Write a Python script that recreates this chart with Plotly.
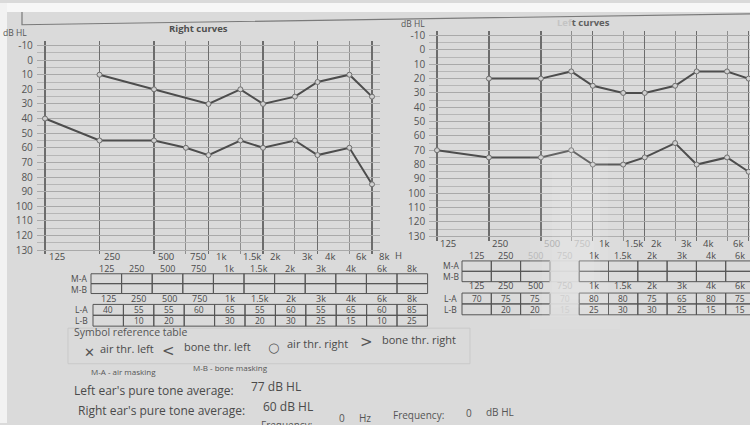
import math
import plotly.graph_objects as go

W, H = 750, 425

# ---------------- data ----------------
freqs = [125, 250, 500, 750, 1000, 1500, 2000, 3000, 4000, 6000, 8000]
freq_labels = ["125", "250", "500", "750", "1k", "1.5k", "2k", "3k", "4k", "6k", "8k"]
octave_freqs = [125, 250, 500, 1000, 2000, 4000, 8000]
mid_freqs = [750, 1500, 3000, 6000]
db_ticks = list(range(-10, 131, 10))
db_minor = list(range(-5, 131, 10))

right_air = [40, 55, 55, 60, 65, 55, 60, 55, 65, 60, 85]      # L-A, right ear
right_bone = [None, 10, 20, None, 30, 20, 30, 25, 15, 10, 25]  # L-B, right ear
left_air = [70, 75, 75, 70, 80, 80, 75, 65, 80, 75, 85]        # L-A, left ear
left_bone = [None, 20, 20, 15, 25, 30, 30, 25, 15, 15, 20]     # L-B, left ear

left_pta = 77
right_pta = 60

FONT = "Open Sans"
TXT = "#4a4a4a"
BG = "#dadada"


def px(x):
    return x / W


def py(y):
    return 1 - y / H


def xgeom(f125_px, f8k_px, pad_l, right_edge=None):
    ppd = (f8k_px - f125_px) / math.log10(8000 / 125)
    lo = math.log10(125) - pad_l
    d0 = f125_px - pad_l * ppd
    if right_edge is None:
        hi = math.log10(8000) + pad_l
        d1 = f8k_px + pad_l * ppd
    else:
        d1 = right_edge
        hi = math.log10(8000) + (right_edge - f8k_px) / ppd
    return [px(d0), px(d1)], [lo, hi]


def ygeom(top_px, bot_px, pad=3):
    ppu = (bot_px - top_px) / 140.0
    t = top_px - pad * ppu
    b = bot_px + pad * ppu
    return [py(b), py(t)], [130 + pad, -10 - pad]


xd1, xr1 = xgeom(45, 372, 0.045)
yd1, yr1 = ygeom(43, 250)
xd2, xr2 = xgeom(437, 748.6, 0.045, right_edge=750)
yd2, yr2 = ygeom(33, 236)

fig = go.Figure()

line_style = dict(color="#4d4d4d", width=2)
marker_style = dict(symbol="circle", size=5, color="#cfcfcf", line=dict(color="#6e6e6e", width=1))

for ys, xa, ya in [(right_air, "x", "y"), (right_bone, "x", "y"),
                   (left_air, "x2", "y2"), (left_bone, "x2", "y2")]:
    fig.add_trace(go.Scatter(x=freqs, y=ys, mode="lines+markers", connectgaps=True,
                             line=line_style, marker=marker_style,
                             xaxis=xa, yaxis=ya, hoverinfo="skip", cliponaxis=True))


def xaxis_cfg(domain, rng, anchor):
    return dict(type="log", domain=domain, range=rng, anchor=anchor,
                tickvals=octave_freqs, showticklabels=False, ticks="",
                showgrid=True, gridcolor="#6c6c6c", gridwidth=1.4,
                minor=dict(tickvals=mid_freqs, showgrid=True, gridcolor="#8e8e8e", gridwidth=1, ticks=""),
                zeroline=False, showline=False, fixedrange=True)


def yaxis_cfg(domain, rng, anchor):
    return dict(domain=domain, range=rng, anchor=anchor,
                tickvals=db_ticks, ticktext=[str(v) for v in db_ticks],
                tickfont=dict(family=FONT, size=10, color="#555"),
                ticks="", ticklabelstandoff=3,
                showgrid=True, gridcolor="#a9a9a9", gridwidth=1,
                minor=dict(tickvals=db_minor, showgrid=True, gridcolor="#b6b6b6", gridwidth=1, ticks=""),
                zeroline=False, showline=False, fixedrange=True)


annotations = []
shapes = []


def text(x, y, s, size=10, color=TXT, xanchor="left", bold=False, family=FONT, yanchor="middle"):
    if bold:
        s = "<b>" + s + "</b>"
    annotations.append(dict(x=px(x), y=py(y), xref="paper", yref="paper", text=s,
                            showarrow=False, xanchor=xanchor, yanchor=yanchor, borderpad=0,
                            font=dict(family=family, size=size, color=color)))


# background details: top white strip, left strip, frame line
shapes.append(dict(type="rect", xref="paper", yref="paper", x0=0, x1=1, y0=py(9), y1=1,
                   fillcolor="#f7f7f7", line=dict(width=0), layer="below"))
shapes.append(dict(type="rect", xref="paper", yref="paper", x0=0, x1=px(7), y0=0, y1=1,
                   fillcolor="#f2f2f2", line=dict(width=0), layer="below"))
shapes.append(dict(type="path", xref="paper", yref="paper",
                   path=f"M {px(22)} {py(9)} L {px(22)} {py(22)} L {px(750)} {py(11)}",
                   line=dict(color="#7a7a7a", width=1.2), layer="below"))

# panel titles and units
text(199, 26, "Right curves", size=9.5, color="#505050", xanchor="center", bold=True)
text(583, 20, "<span style='color:#c4c4c4'>Lef</span>t curves", size=9.5, color="#606060",
     xanchor="center", bold=True)
text(28, 30, "dB HL", size=8.5, color="#555", xanchor="right")
text(426, 21, "dB HL", size=8.5, color="#555", xanchor="right")

# frequency labels under the plots
faded_right = {500: "#b0b0b0", 750: "#c2c2c2"}
for f, lab in zip(freqs, freq_labels):
    annotations.append(dict(x=math.log10(f), y=py(256.5), xref="x", yref="paper", text=lab,
                            showarrow=False, xanchor="center", yanchor="middle", xshift=12, borderpad=0,
                            font=dict(family=FONT, size=9.5, color=TXT)))
    annotations.append(dict(x=math.log10(f), y=py(243.5), xref="x2", yref="paper", text=lab,
                            showarrow=False, xanchor="center", yanchor="middle", xshift=11, borderpad=0,
                            font=dict(family=FONT, size=9.5, color=faded_right.get(f, TXT))))
text(394, 256, "H", size=9.5, color=TXT)


def cell(v):
    if v is None:
        return "&nbsp;"
    return str(v)


def table(x0, cw, y_head, y_top, rh, labels, label_x, values, hidden=None, head_col=None):
    hidden = hidden or {}
    head_col = head_col or {}
    for i, lab in enumerate(freq_labels):
        cx = x0 + cw * (i + 0.5)
        text(cx, y_head, lab, size=9, color=head_col.get(i, TXT), xanchor="center")
    text(label_x, y_top + rh, "<br>".join(labels), size=8.5, color=TXT, xanchor="right")
    for r in range(2):
        yt, yb = y_top + r * rh, y_top + (r + 1) * rh
        for i in range(len(freqs)):
            xl = x0 + cw * i
            shapes.append(dict(type="rect", xref="paper", yref="paper",
                               x0=px(xl), x1=px(xl + cw), y0=py(yb), y1=py(yt),
                               line=dict(color=hidden.get(i, "#555"), width=1), fillcolor="rgba(0,0,0,0)"))
    if values is not None:
        for i in range(len(freqs)):
            s = cell(values[0][i]) + "<br>" + cell(values[1][i])
            text(x0 + cw * (i + 0.5), y_top + rh, s, size=8.5,
                 color="#cfcfcf" if i in hidden else TXT, xanchor="center")


# right-ear tables (under left panel)
table(91, 30.6, 268.5, 274, 10, ["M-A", "M-B"], 88, None)
table(93, 30.4, 299, 305, 11, ["L-A", "L-B"], 89, [right_air, right_bone])

# left-ear tables (under right panel)
glare = {3: "#cdcdcd"}
table(462, 29.3, 255.5, 261, 10.5, ["M-A", "M-B"], 460, None,
      hidden=glare, head_col={2: "#b8b8b8", 3: "#c8c8c8"})
table(462, 29.3, 286.3, 293.5, 11, ["L-A", "L-B"], 458, [left_air, left_bone],
      hidden=glare, head_col={3: "#c8c8c8"})

# glare in the photo (soft, stacked)
for (x0, x1, y0, y1) in [(530, 620, 110, 330), (542, 608, 145, 318), (552, 600, 170, 308), (560, 594, 190, 300)]:
    shapes.append(dict(type="rect", xref="paper", yref="paper", x0=px(x0), x1=px(x1), y0=py(y1), y1=py(y0),
                       fillcolor="white", opacity=0.07, line=dict(width=0), layer="above"))

# symbol reference
text(73, 333, "Symbol reference table", size=10.5, color="#555")
shapes.append(dict(type="rect", xref="paper", yref="paper", x0=px(68), x1=px(470), y0=py(365), y1=py(329),
                   line=dict(color="#c9c9c9", width=1), fillcolor="rgba(0,0,0,0)", layer="below"))
text(89, 354, "✕", size=13, color="#555", xanchor="center", family="DejaVu Sans")
text(99, 350, "air thr. left", size=11, color=TXT)
text(168, 352, "<", size=15, color="#555", xanchor="center", family="DejaVu Sans")
text(183, 348, "bone thr. left", size=11, color=TXT)
text(273, 349, "○", size=13, color="#555", xanchor="center", family="DejaVu Sans")
text(286, 345, "air thr. right", size=11, color=TXT)
text(366, 343, ">", size=15, color="#555", xanchor="center", family="DejaVu Sans")
text(381, 340, "bone thr. right", size=11, color=TXT)

text(90, 373, "M-A - air masking", size=8, color="#555")
text(192, 369, "M-B - bone masking", size=8, color="#555")

text(73, 392, "Left ear's pure tone average:", size=12, color=TXT)
text(250, 388, f"{left_pta} dB HL", size=12, color=TXT)
text(77, 412, "Right ear's pure tone average:", size=12, color=TXT)
text(262, 408, f"{right_pta} dB HL", size=12, color=TXT)

text(260, 427, "Frequency:", size=10, color="#555")
text(338, 420, "0", size=10, color="#555")
text(358, 420, "Hz", size=10, color="#555")
text(392, 417, "Frequency:", size=10, color="#555")
text(465, 415, "0", size=10, color="#555")
text(485, 414, "dB HL", size=10, color="#555")

fig.update_layout(
    width=W, height=H, margin=dict(l=0, r=0, t=0, b=0),
    paper_bgcolor=BG, plot_bgcolor="rgba(0,0,0,0)",
    showlegend=False, hovermode=False,
    font=dict(family=FONT, color=TXT),
    xaxis=xaxis_cfg(xd1, xr1, "y"),
    yaxis=yaxis_cfg(yd1, yr1, "x"),
    xaxis2=xaxis_cfg(xd2, xr2, "y2"),
    yaxis2=yaxis_cfg(yd2, yr2, "x2"),
    annotations=annotations, shapes=shapes,
)

fig.write_html("out.html", config={"displayModeBar": False, "staticPlot": True})
